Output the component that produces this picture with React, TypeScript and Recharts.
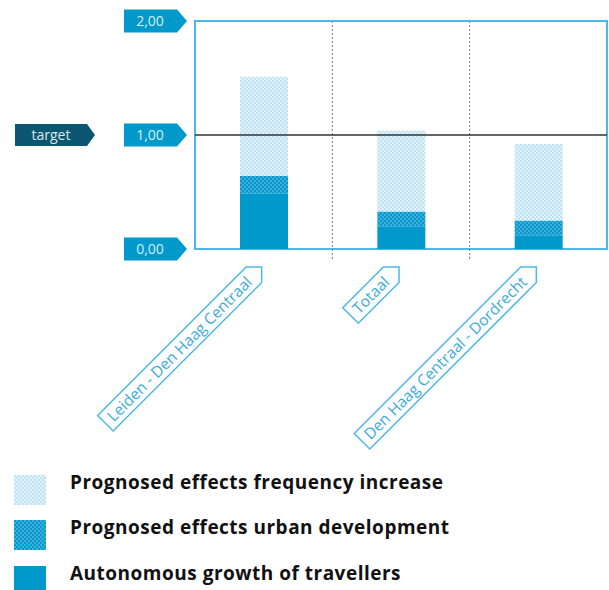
import React from "react";
import {
  BarChart,
  Bar,
  XAxis,
  YAxis,
  CartesianGrid,
  ReferenceLine,
  ReferenceArea,
} from "recharts";

const categories = [
  "Leiden - Den Haag Centraal",
  "Totaal",
  "Den Haag Centraal - Dordrecht",
];
const autonomousGrowth = [0.49, 0.2, 0.12];
const urbanDevelopment = [0.15, 0.13, 0.13];
const frequencyIncrease = [0.87, 0.71, 0.67];

const yTicks = [0, 1, 2];
const yTickLabels = ["0,00", "1,00", "2,00"];
const targetValue = 1;
const targetLabel = "target";

const legendItems = [
  { label: "Prognosed effects frequency increase", fill: "url(#freqPattern)" },
  { label: "Prognosed effects urban development", fill: "url(#urbanPattern)" },
  { label: "Autonomous growth of travellers", fill: "#0099cc" },
];

const data = categories.map((name, i) => ({
  name,
  autonomous: autonomousGrowth[i],
  urban: urbanDevelopment[i],
  frequency: frequencyIncrease[i],
}));

const LABEL_FONT = '15.5px "Open Sans"';
let ctx: CanvasRenderingContext2D | null = null;
function measure(text: string, font: string) {
  if (!ctx) ctx = document.createElement("canvas").getContext("2d");
  if (!ctx) return text.length * 7.7;
  ctx.font = font;
  return ctx.measureText(text).width;
}

function XTick(props: any) {
  const { x, y, payload, index, width, visibleTicksCount } = props;
  const label = String(payload.value);
  const tip = 11;
  const len = measure(label, LABEL_FONT) + 13;
  const step = (width || 412) / (visibleTicksCount || 3);
  const path = `M0,0 L${-tip},${-tip} L${-tip - len},${-tip} L${-tip - len},${tip} L${-tip},${tip} Z`;
  return (
    <g>
      {index > 0 && (
        <line
          x1={x - step / 2}
          x2={x - step / 2}
          y1={y}
          y2={y + 11}
          stroke="#777"
          strokeDasharray="2 2"
        />
      )}
      <g transform={`translate(${x - 2},${y + 18}) rotate(-45)`}>
        <path d={path} fill="#fff" stroke="#4db8e3" strokeWidth={1.5} />
        <text
          x={-tip - len / 2}
          y={0}
          dy="0.35em"
          textAnchor="middle"
          fill="#3aabdd"
          style={{ font: LABEL_FONT }}
        >
          {label}
        </text>
      </g>
    </g>
  );
}

function YTick(props: any) {
  const { x, y, payload } = props;
  const i = yTicks.indexOf(payload.value);
  const path = `M${x - 71},${y - 11.5} L${x - 18},${y - 11.5} L${x - 8},${y} L${x - 18},${y + 11.5} L${x - 71},${y + 11.5} Z`;
  return (
    <g>
      <path d={path} fill="#0099cc" />
      <text
        x={x - 45}
        y={y}
        dy="0.35em"
        textAnchor="middle"
        fill="#d6eef8"
        style={{ font: '14px "Open Sans"' }}
      >
        {yTickLabels[i]}
      </text>
    </g>
  );
}

function TargetLabel(props: any) {
  const { viewBox } = props;
  const x = viewBox.x;
  const y = viewBox.y;
  const path = `M${x - 180},${y - 11} L${x - 108},${y - 11} L${x - 100},${y} L${x - 108},${y + 11} L${x - 180},${y + 11} Z`;
  return (
    <g>
      <path d={path} fill="#0b5670" />
      <text
        x={x - 144}
        y={y}
        dy="0.35em"
        textAnchor="middle"
        fill="#dde8ec"
        style={{ font: '14px "Open Sans"' }}
      >
        {targetLabel}
      </text>
    </g>
  );
}

function Patterns() {
  return (
    <defs>
      <pattern id="freqPattern" width="4" height="4" patternUnits="userSpaceOnUse">
        <rect width="4" height="4" fill="#e2f2fa" />
        <rect x="0" y="0" width="2" height="2" fill="#bfe3f3" />
        <rect x="2" y="2" width="2" height="2" fill="#bfe3f3" />
      </pattern>
      <pattern id="urbanPattern" width="4" height="4" patternUnits="userSpaceOnUse">
        <rect width="4" height="4" fill="#3aaedc" />
        <rect x="0" y="0" width="2" height="2" fill="#0a98cb" />
        <rect x="2" y="2" width="2" height="2" fill="#0a98cb" />
      </pattern>
    </defs>
  );
}

export default function App() {
  return (
    <div style={{ position: "absolute", left: 0, top: 0, width: 609, height: 590, background: "#fff" }}>
      <BarChart
        width={609}
        height={460}
        data={data}
        margin={{ top: 21, right: 2, bottom: 0, left: 0 }}
      >
        <Patterns />
        <CartesianGrid
          horizontal={false}
          stroke="#777"
          strokeDasharray="2 2"
          verticalCoordinatesGenerator={({ offset }: any) => [
            offset.left + offset.width / 3,
            offset.left + (2 * offset.width) / 3,
          ]}
        />
        <XAxis
          dataKey="name"
          height={211}
          axisLine={false}
          tickLine={false}
          tickSize={0}
          tickMargin={0}
          interval={0}
          tick={<XTick />}
        />
        <YAxis
          domain={[0, 2]}
          ticks={yTicks}
          width={195}
          axisLine={false}
          tickLine={false}
          tickSize={0}
          tickMargin={0}
          tick={<YTick />}
        />
        <Bar dataKey="autonomous" stackId="a" fill="#0099cc" barSize={48} isAnimationActive={false} />
        <Bar dataKey="urban" stackId="a" fill="url(#urbanPattern)" barSize={48} isAnimationActive={false} />
        <Bar dataKey="frequency" stackId="a" fill="url(#freqPattern)" barSize={48} isAnimationActive={false} />
        <ReferenceArea y1={0} y2={2} fill="none" stroke="#4db8e3" strokeWidth={2} ifOverflow="visible" />
        <ReferenceLine y={targetValue} stroke="#333" strokeWidth={1.5} label={<TargetLabel />} />
      </BarChart>
      <div style={{ position: "absolute", left: 14, top: 467 }}>
        {legendItems.map((item) => (
          <div key={item.label} style={{ display: "flex", alignItems: "center", height: 45.5 }}>
            <svg width={32} height={30} style={{ display: "block" }}>
              <rect width={32} height={30} fill={item.fill} />
            </svg>
            <span
              style={{
                marginLeft: 24,
                font: '700 19px "Open Sans"',
                letterSpacing: 0.5,
                color: "#111",
                marginTop: -16,
              }}
            >
              {item.label}
            </span>
          </div>
        ))}
      </div>
    </div>
  );
}
